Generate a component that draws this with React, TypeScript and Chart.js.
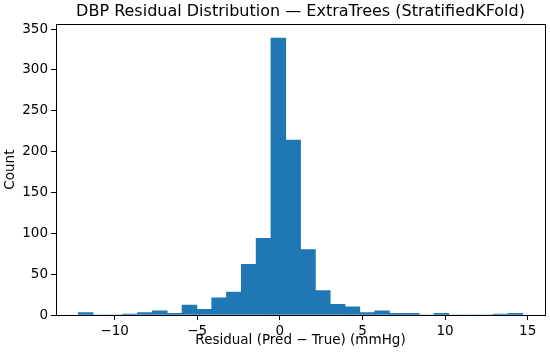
import React, { useEffect, useRef } from "react";
import { Chart, registerables } from "chart.js";

Chart.register(...registerables);

const TITLE = "DBP Residual Distribution \u2014 ExtraTrees (StratifiedKFold)";
const X_LABEL = "Residual (Pred \u2212 True) (mmHg)";
const Y_LABEL = "Count";

// histogram: 30 bins starting at BIN_START with width BIN_WIDTH
const BIN_START = -12.2;
const BIN_WIDTH = 0.897;
const COUNTS = [
  3, 0, 0, 1, 3, 5, 2, 12, 7, 21,
  28, 62, 94, 339, 214, 80, 30, 13, 10, 3,
  5, 2, 2, 0, 2, 0, 0, 0, 1, 2,
];

const X_TICKS = [-10, -5, 0, 5, 10, 15];
const Y_TICKS = [0, 50, 100, 150, 200, 250, 300, 350];
const X_MIN = -13.55;
const X_MAX = 16.05;
const Y_MAX = 356;

const FONT = "'DejaVu Sans', sans-serif";

const framePlugin = {
  id: "frame",
  afterDraw(chart: any) {
    const { ctx, chartArea } = chart;
    ctx.save();
    ctx.strokeStyle = "#000";
    ctx.lineWidth = 1;
    ctx.strokeRect(
      Math.round(chartArea.left) + 0.5,
      Math.round(chartArea.top) + 0.5,
      Math.round(chartArea.right - chartArea.left),
      Math.round(chartArea.bottom - chartArea.top)
    );
    ctx.restore();
  },
};

const fmt = (v: number) => (v < 0 ? "\u2212" + Math.abs(v) : String(v));

export default function App() {
  const ref = useRef<HTMLCanvasElement | null>(null);

  useEffect(() => {
    document.body.style.margin = "0";
    const canvas = ref.current;
    if (!canvas) return;
    const data = COUNTS.map((c, i) => ({
      x: BIN_START + BIN_WIDTH * (i + 0.5),
      y: c,
    }));
    const chart = new Chart(canvas, {
      type: "bar",
      data: {
        datasets: [
          {
            data,
            backgroundColor: "#1f77b4",
            borderWidth: 0,
            barPercentage: 1,
            categoryPercentage: 1,
          },
        ],
      },
      options: {
        animation: false,
        responsive: false,
        devicePixelRatio: 1,
        layout: { padding: { left: 0, right: 5, top: 0, bottom: 0 } },
        plugins: {
          legend: { display: false },
          tooltip: { enabled: false },
          title: {
            display: true,
            fullSize: false,
            text: TITLE,
            color: "#000",
            font: { family: FONT, size: 16, weight: "normal" },
            padding: { top: 2, bottom: 3 },
          },
        },
        scales: {
          x: {
            type: "linear",
            min: X_MIN,
            max: X_MAX,
            offset: false,
            afterFit: (s: any) => {
              s.height = 43;
            },
            afterBuildTicks: (s: any) => {
              s.ticks = X_TICKS.map((v) => ({ value: v }));
            },
            grid: {
              display: true,
              offset: false,
              drawOnChartArea: false,
              drawTicks: true,
              tickLength: 5,
              color: "#000",
            },
            border: { display: true, color: "#000" },
            ticks: {
              color: "#000",
              padding: 3,
              maxRotation: 0,
              font: { family: FONT, size: 13.5 },
              callback: (v: any) => fmt(Number(v)),
            },
            title: {
              display: true,
              text: X_LABEL,
              color: "#000",
              font: { family: FONT, size: 13.5 },
              padding: { top: 0, bottom: 9 },
            },
          },
          y: {
            min: 0,
            max: Y_MAX,
            afterFit: (s: any) => {
              s.width = 56;
            },
            afterBuildTicks: (s: any) => {
              s.ticks = Y_TICKS.map((v) => ({ value: v }));
            },
            grid: {
              display: true,
              drawOnChartArea: false,
              drawTicks: true,
              tickLength: 5,
              color: "#000",
            },
            border: { display: true, color: "#000" },
            ticks: {
              color: "#000",
              padding: 3,
              font: { family: FONT, size: 13.5 },
              callback: (v: any) => fmt(Number(v)),
            },
            title: {
              display: true,
              text: Y_LABEL,
              color: "#000",
              font: { family: FONT, size: 13.5 },
              padding: { top: 2, bottom: 0 },
            },
          },
        },
      },
      plugins: [framePlugin],
    });
    return () => chart.destroy();
  }, []);

  return (
    <div style={{ position: "absolute", left: 0, top: 0, width: 550, height: 358 }}>
      <canvas ref={ref} width={550} height={358} />
    </div>
  );
}
